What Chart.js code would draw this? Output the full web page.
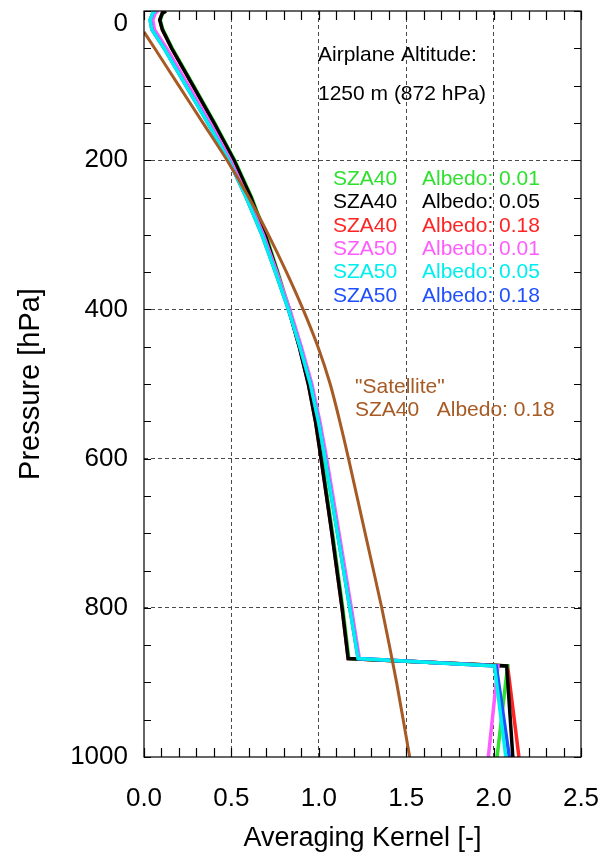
<!DOCTYPE html>
<html>
<head>
<meta charset="utf-8">
<script src="https://cdn.jsdelivr.net/npm/chart.js@4/dist/chart.umd.min.js"></script>
<style>
  html, body { margin: 0; padding: 0; background: #fff; }
  #wrap { width: 611px; height: 857px; }
</style>
</head>
<body>
<div id="wrap"><canvas id="c" width="611" height="857"></canvas></div>
<script>
// ---------- data ----------
// Pressure levels [hPa] of the model averaging-kernel profiles
const P_MODEL = [0, 3, 12, 25, 50, 100, 150, 200, 250, 300, 350, 400, 450, 500, 550, 600, 700, 800, 868, 878, 1000];

// Averaging kernel values for each scenario
const SZA40_ALB001 = [0.125, 0.107, 0.093, 0.108, 0.162, 0.284, 0.404, 0.519, 0.616, 0.697, 0.766, 0.832, 0.892, 0.944, 0.985, 1.017, 1.079, 1.137, 1.172, 2.080, 2.020];
const SZA40_ALB005 = [0.125, 0.105, 0.090, 0.105, 0.158, 0.280, 0.400, 0.515, 0.612, 0.693, 0.762, 0.828, 0.888, 0.940, 0.981, 1.013, 1.075, 1.133, 1.168, 2.075, 2.110];
const SZA40_ALB018 = [0.125, 0.105, 0.090, 0.105, 0.158, 0.280, 0.400, 0.515, 0.612, 0.693, 0.762, 0.828, 0.888, 0.940, 0.981, 1.013, 1.075, 1.133, 1.168, 2.080, 2.145];
const SZA50_ALB001 = [0.080, 0.065, 0.050, 0.060, 0.130, 0.255, 0.378, 0.495, 0.593, 0.683, 0.760, 0.834, 0.900, 0.960, 1.006, 1.045, 1.116, 1.186, 1.232, 2.025, 1.970];
const SZA50_ALB005 = [0.065, 0.050, 0.035, 0.045, 0.115, 0.240, 0.365, 0.485, 0.585, 0.675, 0.752, 0.826, 0.892, 0.952, 0.998, 1.036, 1.107, 1.177, 1.225, 2.005, 2.070];
const SZA50_ALB018 = [0.065, 0.050, 0.035, 0.045, 0.115, 0.240, 0.365, 0.485, 0.585, 0.675, 0.752, 0.826, 0.892, 0.952, 0.998, 1.036, 1.107, 1.177, 1.225, 2.015, 2.090];

// "Satellite" profile
const P_SAT = [28, 50, 100, 150, 200, 250, 300, 350, 400, 450, 500, 550, 600, 700, 800, 900, 1000];
const SAT_SZA40_ALB018 = [0.000, 0.061, 0.199, 0.337, 0.475, 0.600, 0.712, 0.815, 0.910, 0.995, 1.065, 1.120, 1.170, 1.265, 1.360, 1.445, 1.520];

// legend / label texts
const LEGEND_SZA = ['SZA40', 'SZA40', 'SZA40', 'SZA50', 'SZA50', 'SZA50'];
const LEGEND_ALB = ['Albedo: 0.01', 'Albedo: 0.05', 'Albedo: 0.18', 'Albedo: 0.01', 'Albedo: 0.05', 'Albedo: 0.18'];
const SERIES = [SZA40_ALB001, SZA40_ALB005, SZA40_ALB018, SZA50_ALB001, SZA50_ALB005, SZA50_ALB018];
const ALTITUDE_TEXT = ['Airplane Altitude:', '1250 m (872 hPa)'];
const SAT_TEXT = ['"Satellite"', 'SZA40   Albedo: 0.18'];
const X_TICKS = [0.0, 0.5, 1.0, 1.5, 2.0, 2.5];
const Y_TICKS = [0, 200, 400, 600, 800, 1000];

// ---------- styling ----------
const COLORS = ['#2fe02f', '#000000', '#ff2424', '#ff5cff', '#00eeee', '#1f4fff'];
const DRAW_ORDER = [5, 4, 6, 3, 1, 2]; // lower = drawn on top
const BROWN = '#a65a24';
const FONT = '"Liberation Sans", Arial, Helvetica, sans-serif';
Chart.defaults.font.family = FONT;
Chart.defaults.color = '#000';

const datasets = SERIES.map((vals, i) => ({
  label: LEGEND_SZA[i] + ' ' + LEGEND_ALB[i],
  data: P_MODEL.map((p, k) => ({ x: vals[k], y: p })),
  borderColor: COLORS[i],
  borderWidth: 3.5,
  pointRadius: 0,
  showLine: true,
  tension: 0,
  order: DRAW_ORDER[i]
}));
datasets.push({
  label: 'Satellite',
  data: P_SAT.map((p, k) => ({ x: SAT_SZA40_ALB018[k], y: p })),
  borderColor: BROWN,
  borderWidth: 3,
  pointRadius: 0,
  showLine: true,
  tension: 0.2,
  order: 0
});

const gridColor = (lo, hi) => (c) => (c.tick && c.tick.value > lo && c.tick.value < hi) ? '#4a4a4a' : 'rgba(0,0,0,0)';

// frame + inward minor ticks
const framePlugin = {
  id: 'frame',
  afterDraw(chart) {
    const { ctx, chartArea: a, scales: { x, y } } = chart;
    ctx.save();
    ctx.strokeStyle = '#000';
    ctx.lineWidth = 1.2;
    ctx.strokeRect(a.left, a.top, a.right - a.left, a.bottom - a.top);
    ctx.beginPath();
    for (let k = 0; k <= 25; k++) {
      const px = Math.round(x.getPixelForValue(k / 10)) + 0.5;
      ctx.moveTo(px, a.bottom); ctx.lineTo(px, a.bottom - 9);
      ctx.moveTo(px, a.top); ctx.lineTo(px, a.top + 9);
    }
    for (let k = 0; k <= 20; k++) {
      const py = Math.round(y.getPixelForValue(k * 50)) + 0.5;
      ctx.moveTo(a.left, py); ctx.lineTo(a.left + 7, py);
      ctx.moveTo(a.right, py); ctx.lineTo(a.right - 7, py);
    }
    ctx.stroke();
    ctx.restore();
  }
};

// text annotations
const textPlugin = {
  id: 'texts',
  afterDatasetsDraw(chart) {
    const { ctx, chartArea: a } = chart;
    ctx.save();
    ctx.textBaseline = 'middle';
    ctx.textAlign = 'left';
    ctx.font = '21px ' + FONT;
    ctx.fillStyle = '#000';
    ctx.fillText(ALTITUDE_TEXT[0], a.left + 174, 55);
    ctx.fillText(ALTITUDE_TEXT[1], a.left + 174, 94);
    for (let i = 0; i < LEGEND_SZA.length; i++) {
      const yy = 179 + i * 23.4;
      ctx.fillStyle = COLORS[i];
      ctx.fillText(LEGEND_SZA[i], a.left + 189, yy);
      ctx.fillText(LEGEND_ALB[i], a.left + 278, yy);
    }
    ctx.fillStyle = BROWN;
    ctx.fillText(SAT_TEXT[0], a.left + 211, 387);
    ctx.fillText(SAT_TEXT[1], a.left + 211, 410);
    ctx.restore();
  }
};

new Chart(document.getElementById('c'), {
  type: 'scatter',
  data: { datasets },
  options: {
    responsive: false,
    animation: false,
    events: [],
    layout: { padding: { top: 11, right: 30, left: 0, bottom: 0 } },
    plugins: { legend: { display: false }, tooltip: { enabled: false } },
    scales: {
      x: {
        type: 'linear', position: 'bottom', min: 0, max: 2.5,
        afterBuildTicks: (s) => { s.ticks = X_TICKS.map(v => ({ value: v })); },
        ticks: { callback: (v) => Number(v).toFixed(1), font: { size: 26 }, color: '#000', padding: 26, maxRotation: 0, autoSkip: false },
        grid: { color: gridColor(0, 2.5), lineWidth: 1, drawTicks: false },
        border: { display: false, dash: [4, 3] },
        title: { display: true, text: 'Averaging Kernel [-]', font: { size: 27 }, color: '#000', padding: { top: 0, bottom: 2 } },
        afterFit: (s) => { s.height = 100; s.paddingLeft = 0; s.paddingRight = 0; }
      },
      y: {
        type: 'linear', position: 'left', min: 0, max: 1000, reverse: true,
        afterBuildTicks: (s) => { s.ticks = Y_TICKS.map(v => ({ value: v })); },
        ticks: { callback: (v) => v === 0 ? ['', '0'] : String(v), font: { size: 26, lineHeight: 1.0 }, color: '#000', padding: 16, autoSkip: false },
        grid: { color: gridColor(0, 1000), lineWidth: 1, drawTicks: false },
        border: { display: false, dash: [4, 3] },
        title: { display: true, text: 'Pressure [hPa]', font: { size: 29 }, color: '#000', padding: { top: 14, bottom: 0 } },
        afterFit: (s) => { s.width = 144; s.paddingTop = 0; s.paddingBottom = 0; }
      }
    }
  },
  plugins: [framePlugin, textPlugin]
});
</script>
</body>
</html>
